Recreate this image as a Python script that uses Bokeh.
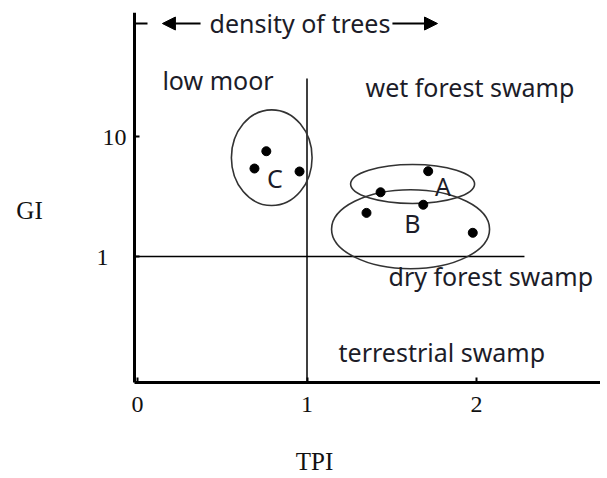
from bokeh.plotting import figure
from bokeh.models import Range1d, FixedTicker, Label, Arrow, NormalHead
from bokeh.core.properties import value
from bokeh.embed import file_html
from bokeh.resources import INLINE

# ---- data ----
tpi = [0.76, 0.69, 0.956, 1.715, 1.434, 1.686, 1.351, 1.978]
gi = [7.54, 5.41, 5.11, 5.14, 3.43, 2.70, 2.31, 1.576]

group_names = ["C", "A", "B"]
group_x = [0.792, 1.623, 1.611]
group_y = [6.66, 4.02, 1.689]
letter_x = [0.811, 1.802, 1.622]
letter_y = [4.47, 3.90, 1.92]

region_names = ["low moor", "wet forest swamp", "dry forest swamp", "terrestrial swamp"]
region_x = [0.147, 1.345, 1.481, 1.186]
region_y = [29.8, 25.8, 0.694, 0.1595]

x_tick_values = [0, 1, 2]
x_tick_labels = ["0", "1", "2"]
y_tick_values = [1, 10]
y_tick_labels = ["1\u00a0\u00a0\u00a0", "10"]

tpi_threshold = 1
gi_threshold = 1

TPI_MIN, TPI_MAX = -0.0177, 2.7316
GI_MIN, GI_MAX = 0.08913, 108.0
SANS = "Noto Sans"
SERIF = "Liberation Serif"
TXT = "#1c1c28"

p = figure(width=600, height=476, y_axis_type="log",
           x_range=Range1d(-0.8083, TPI_MAX), y_range=Range1d(0.01468, GI_MAX),
           output_backend="svg", toolbar_location=None,
           min_border_left=0, min_border_right=0,
           min_border_top=12, min_border_bottom=0)
p.outline_line_color = None
p.xgrid.visible = False
p.ygrid.visible = False
p.background_fill_color = "white"
p.border_fill_color = "white"

for ax in (p.xaxis[0], p.yaxis[0]):
    ax.axis_line_width = 3
    ax.axis_line_color = "black"
    ax.major_tick_in = 5
    ax.major_tick_out = 0
    ax.major_tick_line_width = 2
    ax.minor_tick_line_color = None
    ax.major_label_text_font = SERIF
    ax.major_label_text_font_size = "24px"
    ax.major_label_text_color = "#111111"

# axes pinned to the corner of the TPI / GI scales
p.xaxis.fixed_location = GI_MIN
p.xaxis.bounds = (TPI_MIN, TPI_MAX)
p.xaxis.ticker = FixedTicker(ticks=x_tick_values)
p.xaxis.major_label_overrides = dict(zip(x_tick_values, x_tick_labels))
p.xaxis.major_label_standoff = 14

p.yaxis.fixed_location = TPI_MIN
p.yaxis.bounds = (GI_MIN, GI_MAX)
p.yaxis.ticker = FixedTicker(ticks=y_tick_values)
p.yaxis.major_label_overrides = dict(zip(y_tick_values, y_tick_labels))
p.yaxis.major_label_standoff = 8

# axis titles
p.add_layout(Label(x=-0.637, y=2.42, text="GI", text_font=SERIF, text_font_size="25px",
                   text_align="center", text_baseline="middle", text_color="#111111"))
p.add_layout(Label(x=1.044, y=0.0195, text="TPI", text_font=SERIF, text_font_size="25px",
                   text_align="center", text_baseline="middle", text_color="#111111"))

# threshold lines
p.segment(x0=[tpi_threshold], y0=[GI_MIN], x1=[tpi_threshold], y1=[30.4],
          line_color="black", line_width=1.5)
p.segment(x0=[TPI_MIN], y0=[gi_threshold], x1=[2.283], y1=[gi_threshold],
          line_color="black", line_width=1.5)

# ellipses around groups
p.ellipse(x=group_x, y=group_y, width=[80.7, 124, 158], height=[95.7, 39, 79],
          width_units="screen", height_units="screen",
          fill_color=None, line_color="#333333", line_width=1.6)

# points
p.scatter(x=tpi, y=gi, size=9, color="black")

# group letters
p.text(x=letter_x, y=letter_y, text=group_names, text_font=value(SANS),
       text_font_size="25px", text_align="center", text_baseline="alphabetic",
       text_color=TXT)

# region labels
p.text(x=region_x, y=region_y, text=region_names, text_font=value(SANS),
       text_font_size="25px", text_align="left", text_baseline="alphabetic",
       text_color=TXT)

# density of trees arrows
p.segment(x0=[TPI_MIN], y0=[87.4], x1=[0.059], y1=[87.4], line_color="black", line_width=2)
p.add_layout(Arrow(end=NormalHead(size=13, fill_color="black", line_color="black"),
                   x_start=0.372, y_start=87.4, x_end=0.147, y_end=87.4,
                   line_width=2, line_color="black"))
p.add_layout(Arrow(end=NormalHead(size=13, fill_color="black", line_color="black"),
                   x_start=1.504, y_start=87.4, x_end=1.770, y_end=87.4,
                   line_width=2, line_color="black"))
p.add_layout(Label(x=0.425, y=89.1, text="density of trees", text_font=SANS,
                   text_font_size="25px", text_align="left", text_baseline="alphabetic",
                   text_color=TXT))

open("out.html", "w").write(file_html(p, INLINE))
